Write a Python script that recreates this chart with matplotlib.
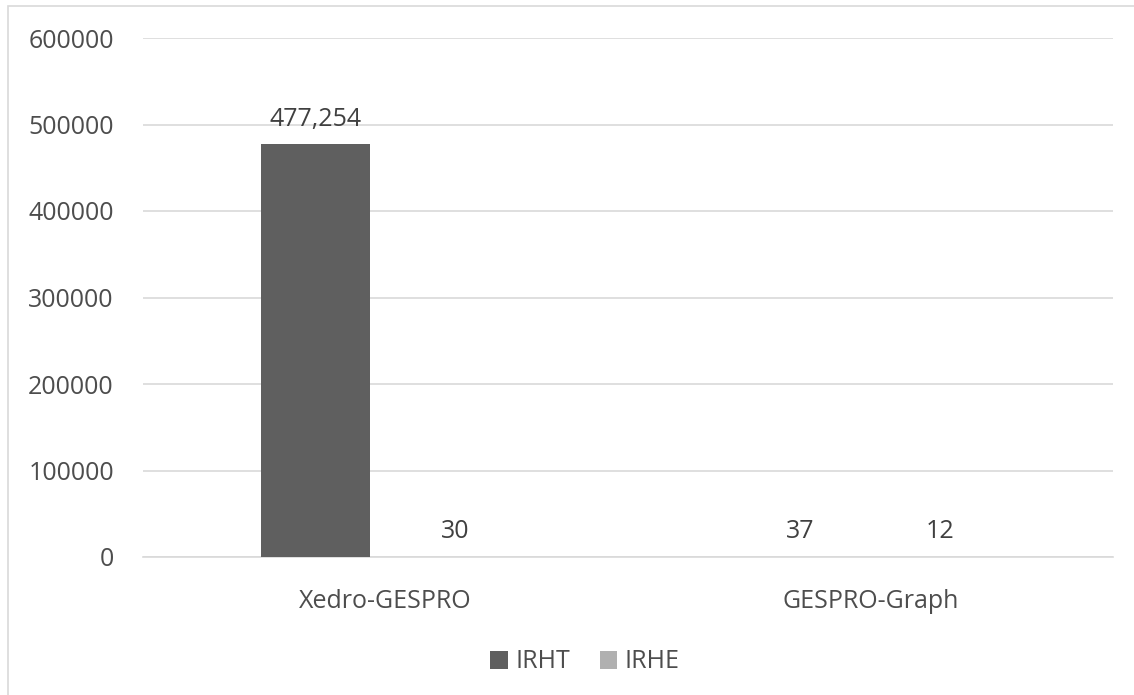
import matplotlib.pyplot as plt
from matplotlib.patches import Rectangle
import numpy as np

# Chart data
categories = ['Xedro-GESPRO', 'GESPRO-Graph']
series_names = ['IRHT', 'IRHE']
irht = [477254, 37]
irhe = [30, 12]
label_irht = ['477,254', '37']
label_irhe = ['30', '12']
y_ticks = [0, 100000, 200000, 300000, 400000, 500000, 600000]

plt.rcParams['font.family'] = ['Open Sans', 'DejaVu Sans']
text_color = '#4d4d4d'
fsize = 18

fig = plt.figure(figsize=(11.34, 6.95), dpi=100)
ax = fig.add_axes([143 / 1134, 1 - 557 / 695, (1113 - 143) / 1134, (557 - 38) / 695])

# Outer chart border (only left and top are inside the picture)
fig.patches.append(Rectangle((8 / 1134, -0.05), 1.2, 1 - 6 / 695 + 0.05,
                             transform=fig.transFigure, fill=False,
                             edgecolor='#d9d9d9', linewidth=1.2))

x = np.arange(len(categories))
width = 0.225
offset = 0.144

b1 = ax.bar(x - offset, irht, width, color='#5f5f5f', label=series_names[0], zorder=3)
b2 = ax.bar(x + offset, irhe, width, color='#b0b0b0', label=series_names[1], zorder=3)

for bars, labels in [(b1, label_irht), (b2, label_irhe)]:
    for rect, txt in zip(bars, labels):
        ax.annotate(txt, (rect.get_x() + rect.get_width() / 2, rect.get_height()),
                    xytext=(0, 9), textcoords='offset points', ha='center', va='bottom',
                    fontsize=fsize, color='#404040')

ax.set_xlim(-0.5, 1.5)
ax.set_ylim(0, 600000)
ax.set_yticks(y_ticks)
ax.set_yticklabels([str(v) for v in y_ticks])
ax.set_xticks(x)
ax.set_xticklabels(categories)
ax.tick_params(axis='both', length=0, labelsize=fsize, colors=text_color)
ax.tick_params(axis='y', pad=21)
ax.tick_params(axis='x', pad=23)

ax.grid(axis='y', color='#d9d9d9', linewidth=1.2, zorder=0)
for s in ['top', 'right', 'left']:
    ax.spines[s].set_visible(False)
ax.spines['bottom'].set_color('#d9d9d9')
ax.spines['bottom'].set_linewidth(1.2)

leg = fig.legend(loc='center', bbox_to_anchor=(585 / 1134, 1 - 662 / 695), ncol=2,
                 frameon=False, fontsize=fsize, handlelength=0.7, handleheight=0.7,
                 handletextpad=0.3, columnspacing=1.2)
for t in leg.get_texts():
    t.set_color(text_color)

fig.savefig('out.png', dpi=100)
